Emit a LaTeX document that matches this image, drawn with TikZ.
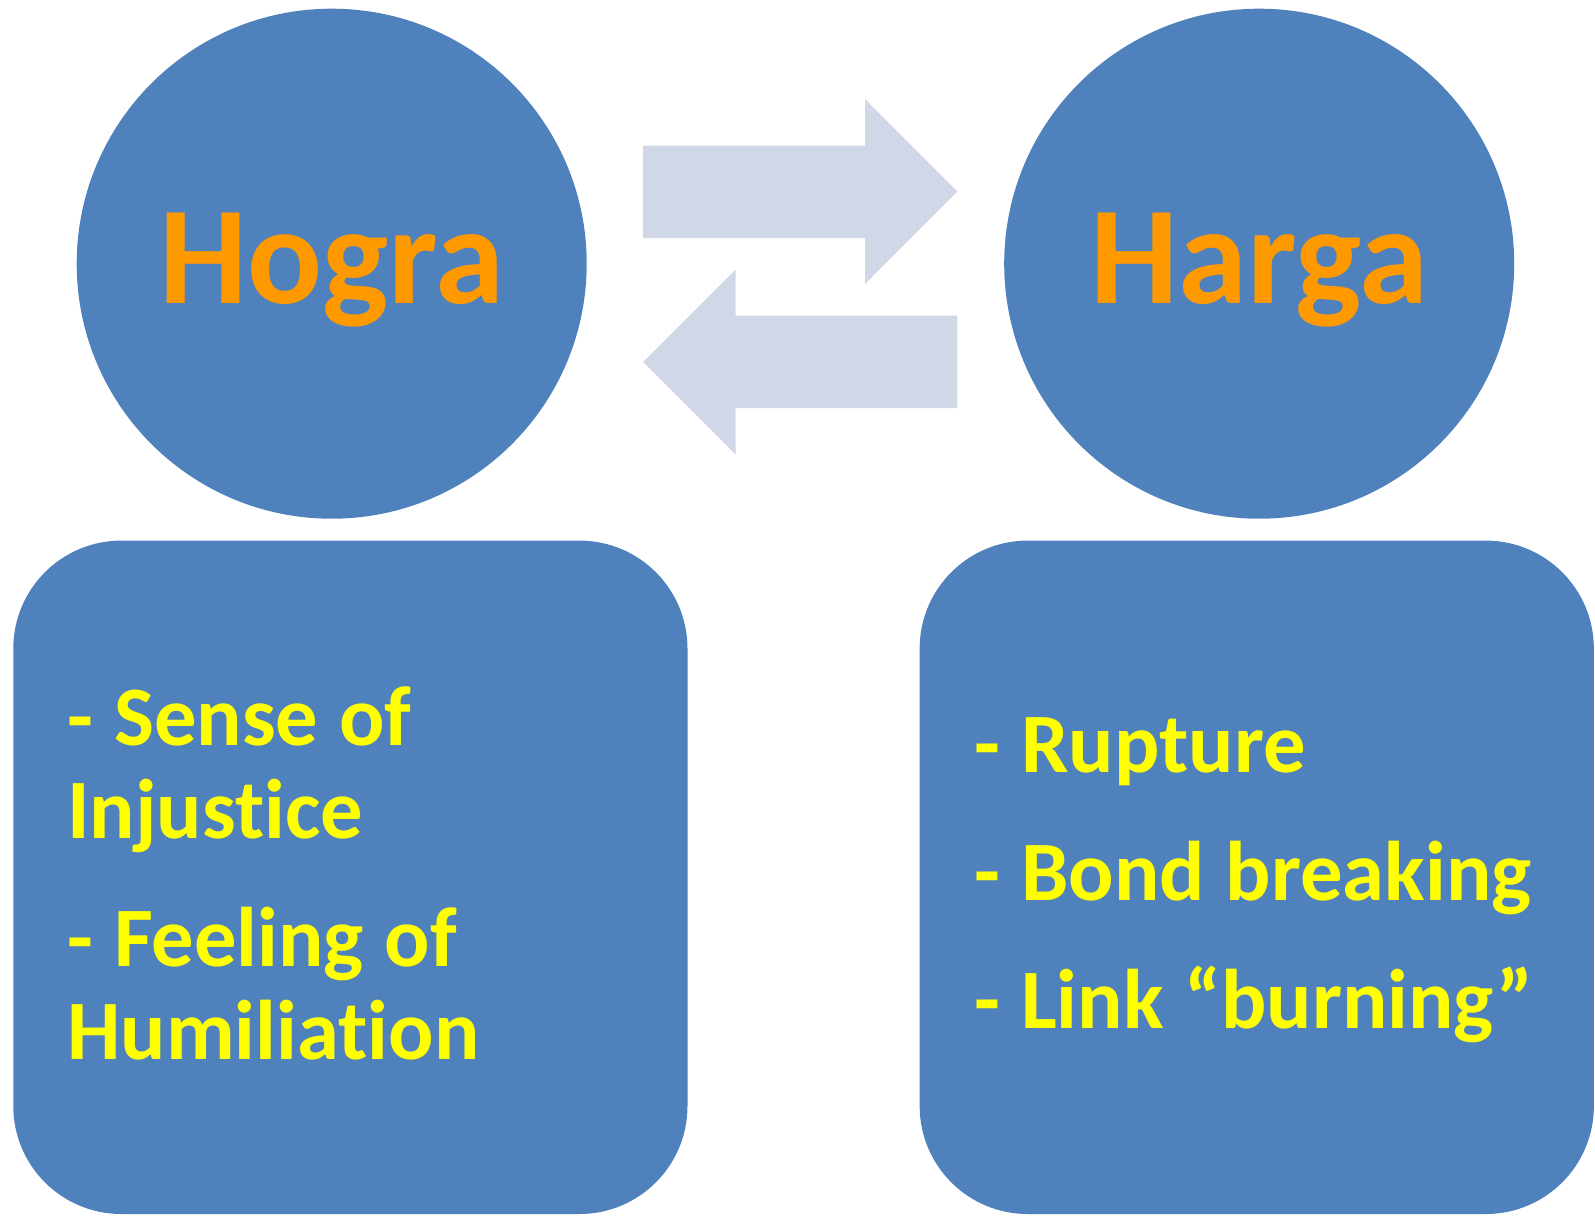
\documentclass[tikz,border=0pt]{standalone}
\usepackage{fontspec}
\setmainfont{Carlito}[Ligatures={NoCommon}]
\definecolor{accblue}{HTML}{4F81BD}
\definecolor{titleorange}{HTML}{FF9900}
\definecolor{bodyyellow}{HTML}{FFFF00}
\definecolor{arrowgrey}{HTML}{D0D8E8}
\newcommand\setbodyspace{\spaceskip=10.4pt\relax}
\begin{document}
\begin{tikzpicture}[x=0.5pt,y=-0.5pt,
  bubble/.style={circle, fill=accblue, minimum size=255pt, inner sep=0pt},
  panel/.style={rectangle, rounded corners=54pt, fill=accblue, minimum width=337.1pt, minimum height=336.7pt, inner sep=0pt},
  title/.style={font=\bfseries\fontsize{69.8}{80}\selectfont, text=titleorange, inner sep=0pt, anchor=base},
  bodytext/.style={font=\bfseries\fontsize{42.3}{46.5}\selectfont, text=bodyyellow, inner sep=0pt, anchor=base west, text width=340pt, align=left},
  blockarrow/.style={fill=arrowgrey}]
\useasboundingbox (0,0) rectangle (1595,1215);
% circles
\node[bubble] (hogra) at (331.7,263.7) {};
\node[bubble] (harga) at (1259.2,263.7) {};
\node[title] (hogratxt) at (331.7,303) {Hogra};
\node[title] (hargatxt) at (1259.2,303) {Harga};
% panels
\node[panel] (leftpanel) at (350.4,877.3) {};
\node[panel] (rightpanel) at (1256.75,877.3) {};
\node[bodytext] (lefttxt) at (67,745) {\setbodyspace - Sense of\\ Injustice\\[17.5pt] - Feeling of\\ Humiliation};
\node[bodytext] (righttxt) at (974,772) {\setbodyspace - Rupture\\[17.5pt] - Bond breaking\\[17.5pt] - Link “burning”};
% block arrows
\fill[blockarrow] (643,145.5) -- (865,145.5) -- (865,99) -- (957.3,191.5) -- (865,284) -- (865,238) -- (643,238) -- cycle;
\fill[blockarrow] (643,362) -- (735.5,269.5) -- (735.5,315.5) -- (957.3,315.5) -- (957.3,408) -- (735.5,408) -- (735.5,454.5) -- cycle;
\end{tikzpicture}
\end{document}
